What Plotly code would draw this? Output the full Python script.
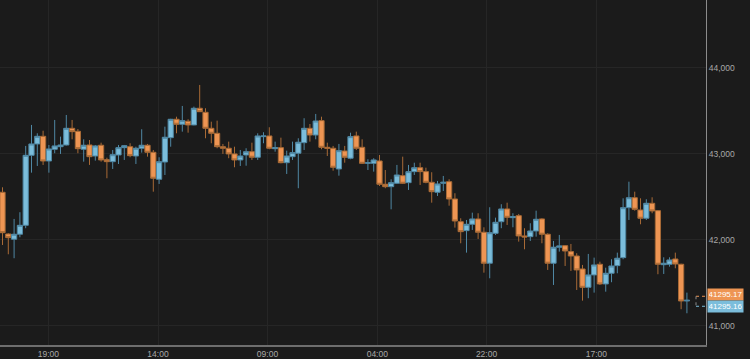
import plotly.graph_objects as go

open_ = [42551, 42066, 42005, 42063, 42167, 42981, 43113, 43202, 42915, 43051,
         43081, 43101, 43295, 43260, 43051, 43101, 42973, 43098, 42930, 42907,
         42985, 43070, 43081, 42973, 43063, 43098, 43016, 42702, 42903, 43186,
         43400, 43342, 43377, 43334, 43528, 43481, 43295, 43237, 43081, 43063,
         42997, 42927, 42985, 43023, 42958, 43198, 43206, 43058, 43070, 42895,
         42965, 43005, 43128, 43295, 43217, 43384, 43074, 43063, 42822, 43031,
         42947, 43206, 43074, 42888, 42888, 42915, 42644, 42616, 42656, 42744,
         42663, 42791, 42837, 42791, 42667, 42551, 42656, 42674, 42473, 42209,
         42105, 42179, 42241, 42086, 41726, 42074, 42209, 42357, 42256, 42279,
         42043, 42035, 42101, 42241, 42063, 41726, 41912, 41930, 41861, 41810,
         41659, 41446, 41590, 41714, 41485, 41609, 41698, 41791, 42372, 42488,
         42345, 42249, 42423, 42337, 41709, 41714, 41775, 41714, 41287]
high = [42609, 42075, 42241, 42319, 43090, 43334, 43237, 43267, 43101, 43392,
        43198, 43450, 43392, 43287, 43167, 43159, 43101, 43128, 42953, 43043,
        43101, 43101, 43121, 43081, 43284, 43113, 43043, 42958, 43314, 43405,
        43430, 43555, 43400, 43547, 43799, 43528, 43372, 43384, 43113, 43140,
        43081, 43043, 43063, 43128, 43237, 43249, 43307, 43140, 43186, 43035,
        43140, 43179, 43412, 43345, 43462, 43430, 43128, 43090, 43113, 43090,
        43244, 43256, 43167, 42935, 42947, 42985, 42810, 42702, 42869, 42965,
        42869, 42895, 42895, 42837, 42784, 42683, 42741, 42702, 42540, 42249,
        42229, 42314, 42307, 42144, 42377, 42256, 42412, 42430, 42307, 42299,
        42133, 42191, 42337, 42249, 42074, 41985, 42055, 41938, 41950, 41842,
        41706, 41834, 41791, 41744, 41674, 41772, 41849, 42481, 42674, 42558,
        42481, 42470, 42493, 42345, 41795, 41795, 41849, 41720, 41384]
low = [41938, 41830, 41784, 42028, 42133, 42779, 42857, 42869, 42779, 43005,
       42997, 43095, 43167, 43005, 42907, 42869, 42919, 42907, 42714, 42822,
       42880, 42927, 42958, 42880, 43012, 42965, 42558, 42648, 42752, 43081,
       43237, 43256, 43244, 43330, 43485, 43179, 43121, 43063, 42997, 42947,
       42842, 42857, 42860, 42927, 42927, 43121, 43051, 43023, 42888, 42764,
       42927, 42598, 43043, 43140, 43167, 43051, 42973, 42802, 42744, 42895,
       42935, 43043, 42880, 42810, 42791, 42624, 42598, 42353, 42650, 42648,
       42578, 42752, 42636, 42656, 42430, 42508, 42566, 42395, 42140, 41958,
       41849, 42113, 42008, 41616, 41551, 42055, 42133, 42171, 42144, 41977,
       41888, 41985, 42035, 41958, 41648, 41473, 41861, 41694, 41636, 41415,
       41291, 41319, 41384, 41473, 41395, 41505, 41609, 41772, 42229, 42337,
       42179, 42229, 42307, 41598, 41601, 41686, 41667, 41191, 41144]
close = [42081, 42023, 42063, 42167, 42981, 43113, 43202, 42915, 43055, 43090,
         43101, 43295, 43256, 43058, 43098, 42965, 43090, 42927, 42907, 42988,
         43070, 43093, 42977, 43063, 43098, 43016, 42714, 42907, 43191, 43400,
         43342, 43384, 43334, 43528, 43488, 43295, 43237, 43081, 43063, 42997,
         42927, 42973, 43023, 42958, 43206, 43206, 43063, 43070, 42895, 42973,
         43012, 43133, 43295, 43217, 43380, 43074, 43063, 42842, 43035, 42958,
         43198, 43063, 42888, 42895, 42927, 42644, 42616, 42663, 42752, 42656,
         42791, 42837, 42791, 42667, 42558, 42648, 42667, 42473, 42217, 42093,
         42179, 42241, 42086, 41726, 42081, 42202, 42357, 42260, 42268, 42043,
         42031, 42101, 42237, 42063, 41726, 41912, 41927, 41868, 41810, 41648,
         41446, 41590, 41706, 41485, 41609, 41694, 41784, 42372, 42488, 42353,
         42249, 42423, 42334, 41714, 41726, 41764, 41717, 41287, 41295.16]

x_index = list(range(len(open_)))

tick_pos = [7.90, 26.81, 45.69, 64.62, 83.45, 102.38]
tick_text = ["19:00", "14:00", "09:00", "04:00", "22:00", "17:00"]
y_ticks = [41000, 42000, 43000, 44000]

last_ask = 41295.17
last_bid = 41295.16

BG = "#1b1b1b"
GRID = "#262626"
ORANGE = "#ee9553"
BLUE = "#7bbddb"
FONT = "Liberation Sans, Arial, sans-serif"

fig = go.Figure()
fig.add_trace(go.Candlestick(
    x=x_index, open=open_, high=high, low=low, close=close,
    increasing=dict(fillcolor=BLUE, line=dict(color="#4f87a3", width=1)),
    decreasing=dict(fillcolor=ORANGE, line=dict(color="#a86a36", width=1)),
    whiskerwidth=0, hoverinfo="skip", showlegend=False,
))

# current-price bracket (dashed)
for yoff, col in [(4, ORANGE), (-6, BLUE)]:
    fig.add_shape(type="line", xref="paper", yref="y",
                  xsizemode="pixel", xanchor=1, x0=-10, x1=0,
                  ysizemode="pixel", yanchor=last_bid, y0=yoff, y1=yoff,
                  line=dict(color=col, width=1, dash="dot"))
fig.add_shape(type="line", xref="paper", yref="y",
              xsizemode="pixel", xanchor=1, x0=-10, x1=-10,
              ysizemode="pixel", yanchor=last_bid, y0=4, y1=-6,
              line=dict(color="#8a8a8a", width=1, dash="dot"))

for val, yshift, col in [(last_ask, 6, ORANGE), (last_bid, -6, BLUE)]:
    fig.add_annotation(
        xref="paper", x=1, xanchor="left", xshift=1,
        yref="y", y=last_bid, yshift=yshift, yanchor="middle",
        text=f"{val:.2f}", showarrow=False,
        bgcolor=col, borderpad=1, width=33, height=9,
        font=dict(family=FONT, size=8, color="#ffffff"),
    )

fig.update_layout(
    width=750, height=359,
    margin=dict(l=0, r=44, t=0, b=14),
    paper_bgcolor=BG, plot_bgcolor=BG,
    boxgap=0.1, boxgroupgap=0,
    font=dict(family=FONT, size=8, color="#a8a8a8"),
    xaxis=dict(
        range=[-0.431, 121.29], rangeslider=dict(visible=False),
        tickmode="array", tickvals=tick_pos, ticktext=tick_text,
        showgrid=True, gridcolor=GRID, gridwidth=1,
        showline=True, linecolor="#6e6e6e", linewidth=2,
        ticks="", zeroline=False, fixedrange=True,
        tickfont=dict(family=FONT, size=8.5, color="#a8a8a8"),
    ),
    yaxis=dict(
        side="right", range=[40775, 44787],
        tickmode="array", tickvals=y_ticks, tickformat=",d",
        showgrid=True, gridcolor=GRID, gridwidth=1,
        showline=True, linecolor="#8c8c8c", linewidth=1,
        ticks="", zeroline=False, fixedrange=True,
        tickfont=dict(family=FONT, size=8.5, color="#a8a8a8"),
    ),
)

fig.write_html("out.html")
